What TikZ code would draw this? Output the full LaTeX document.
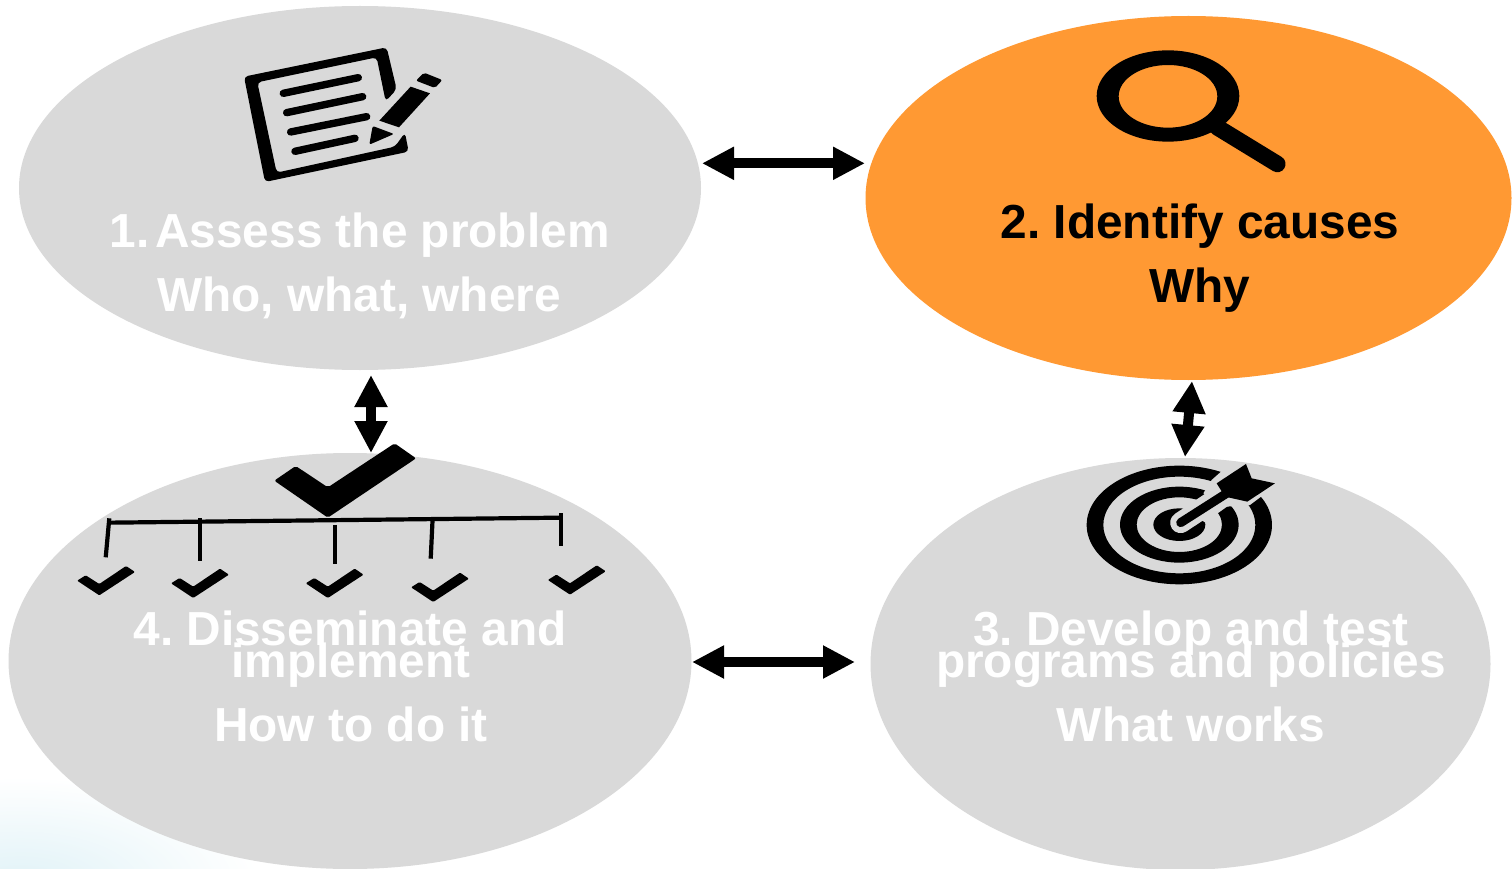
\documentclass[tikz,border=0pt]{standalone}
\usepackage{fontspec}
\setmainfont{Liberation Sans}
\usetikzlibrary{shapes.geometric,arrows.meta,shadings}
\definecolor{ovalgray}{HTML}{D9D9D9}
\definecolor{hot}{HTML}{FF9933}
\definecolor{haze}{HTML}{E0F2F7}
\tikzset{
  blob/.style={ellipse,inner sep=0pt,outer sep=0pt,draw=none},
  lbl/.style={anchor=base,inner sep=0pt,outer sep=0pt,font=\fontsize{47.8}{47.8}\selectfont\bfseries},
  link/.style={line width=10pt,{Triangle[length=32pt,width=31pt]}-{Triangle[length=32pt,width=31pt]},black},
  ink/.style={fill=black,draw=none},
  rule/.style={draw=black,line width=4.2pt},
  stroke/.style={draw=black,line width=7.4pt,line cap=round}
}
\begin{document}
\frenchspacing
\begin{tikzpicture}[x=1pt,y=-1pt]
\useasboundingbox (0,0) rectangle (1512,869);
\fill[white] (0,0) rectangle (1512,869);
\begin{scope}
\clip (0,760) rectangle (300,869);
\shade[inner color=haze,outer color=white,shift={(20,885)},yscale=0.45] (0,0) circle (240);
\end{scope}
\node[blob,fill=ovalgray,minimum width=682pt,minimum height=364pt] (n1) at (360,188) {};
\node[blob,fill=hot,minimum width=646pt,minimum height=364pt] (n2) at (1188.5,198) {};
\node[blob,fill=ovalgray,minimum width=620pt,minimum height=412pt] (n3) at (1180.5,664) {};
\node[blob,fill=ovalgray,minimum width=683pt,minimum height=416pt] (n4) at (350,661) {};
% connector ends
\coordinate (a1) at (702,163.3); \coordinate (b1) at (865,163.3);
\coordinate (a2) at (1192,381); \coordinate (b2) at (1185,457);
\coordinate (a3) at (692,662); \coordinate (b3) at (855,662);
\coordinate (a4) at (371,375); \coordinate (b4) at (371,453);
\draw[link] (a1) -- (b1);
\draw[link] (a2) -- (b2);
\draw[link] (a3) -- (b3);
\draw[link] (a4) -- (b4);
% notepad
\begin{scope}[shift={(220,30)},x=0.3333pt,y=-0.3333pt]
\fill[ink,rounded corners=4pt] (72,140)--(500,52)--(530,178)--(497,214)--(470,82)--(112,157)--(170,428)--(525,350)--(555,308)--(566,365)--(135,456)--cycle;
\draw[stroke] (190,190)--(415,143);
\draw[stroke] (200,248)--(428,200);
\draw[stroke] (212,306)--(440,260);
\draw[stroke] (225,364)--(405,325);
\fill[ink] (572,170)--(630,190)--(537,292)--(478,272)--cycle;
\fill[ink,rounded corners=2pt] (612,128)--(667,150)--(645,174)--(588,152)--cycle;
\fill[ink,rounded corners=2pt] (458,288)--(522,312)--(448,344)--cycle;
\end{scope}
% magnifier
\begin{scope}[shift={(1080,40)},x=0.3333pt,y=-0.3333pt]
\fill[ink,even odd rule] (264,168) ellipse [x radius=214,y radius=137] (264,169) ellipse [x radius=148,y radius=94];
\draw[black,line width=16.5pt,line cap=round] (412,262)--(592,372);
\end{scope}
% checklist
\begin{scope}[shift={(60,430)},x=0.35714pt,y=-0.3333pt]
\fill[ink,rounded corners=2pt] (600,152)--(660,108)--(750,172)--(937,40)--(997,85)--(750,263)--cycle;
\draw[rule] (140,278)--(1402,263);
\draw[rule] (138,265)--(128,382);
\draw[rule] (392,265)--(392,392);
\draw[rule] (771,285)--(771,403);
\draw[rule] (1043,272)--(1038,386);
\draw[rule] (1402,250)--(1402,348);
\foreach \dx/\dy in {0/0,263/8,640/8,935/20,1318/-2}{
  \fill[ink,rounded corners=1pt,shift={(\dx,\dy)}] (48,452)--(72,436)--(110,462)--(185,408)--(210,426)--(110,496)--cycle;
}
\end{scope}
% target
\begin{scope}[shift={(1070,370)},x=0.3333pt,y=-0.3333pt]
\fill[ink,even odd rule] (328,465) ellipse [x radius=278,y radius=178] (328,465) ellipse [x radius=228,y radius=145]
 (328,464) ellipse [x radius=178,y radius=114] (328,464) ellipse [x radius=128,y radius=82]
 (328,464) ellipse [x radius=78,y radius=49];
\fill[ovalgray] (340,419)--(420,364)--(495,393)--(405,457)--cycle;
\fill[ovalgray] (425,330)--(470,290)--(600,360)--(540,405)--(470,410)--(400,370)--cycle;
\draw[draw=ovalgray,line width=21pt,line cap=round] (332,458)--(430,393);
\draw[black,line width=9pt,line cap=round] (332,458)--(470,370);
\fill[ink] (440,340)--(528,282)--(545,325)--(615,340)--(532,395)--(465,380)--cycle;
\end{scope}
% labels
\node[lbl,text=white] (t1a) at (359.5,247.5) {1.\kern6pt Assess the problem};
\node[lbl,text=white] (t1b) at (359,311.5) {Who, what, where};
\node[lbl,text=black] (t2a) at (1200,238) {2. Identify causes};
\node[lbl,text=black] (t2b) at (1200,302) {Why};
\node[lbl,text=white] (t4a) at (350,645.5) {4. Disseminate and};
\node[lbl,text=white] (t4b) at (351,677.5) {implement};
\node[lbl,text=white] (t4c) at (351,741.5) {How to do it};
\node[lbl,text=white] (t3a) at (1191,645.5) {3. Develop and test};
\node[lbl,text=white] (t3b) at (1191,677.5) {programs and policies};
\node[lbl,text=white] (t3c) at (1191,741.5) {What works};
\end{tikzpicture}
\end{document}
